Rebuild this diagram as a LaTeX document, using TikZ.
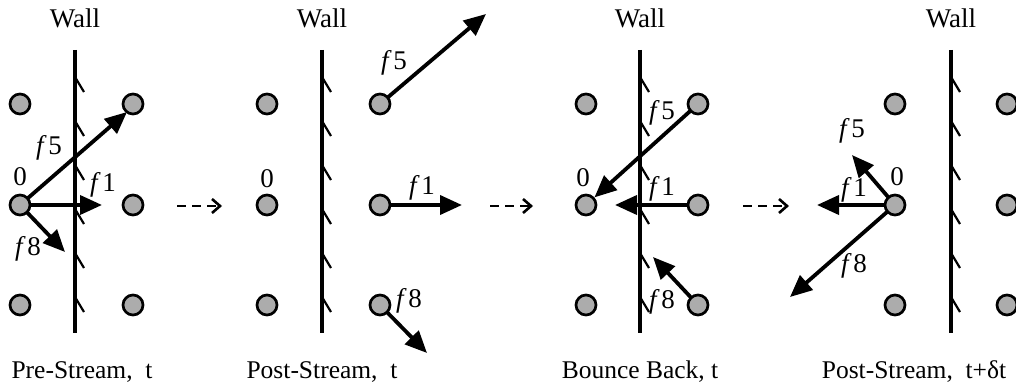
\documentclass[tikz,border=0pt]{standalone}
\usepackage{fontspec}
\setmainfont{Liberation Serif}
\usetikzlibrary{arrows.meta}
\tikzset{
  dot/.style={circle, draw=black, line width=2.7pt, fill=gray!65, minimum size=20pt, inner sep=0pt},
  vec/.style={line width=3.8pt, -{Triangle[length=22pt,width=19pt]}, shorten <=-1pt},
  wallline/.style={line width=3.2pt},
  hatch/.style={line width=2.2pt},
  flow/.style={line width=2.6pt, dash pattern=on 9pt off 6pt, -{Straight Barb[length=8pt,width=14pt,line width=2.6pt]}},
  lbl/.style={inner sep=0pt, font=\fontsize{27}{32}\selectfont},
  walltext/.style={inner sep=0pt, anchor=base, font=\fontsize{27}{32}\selectfont},
  captext/.style={inner sep=0pt, anchor=base, font=\fontsize{25.5}{30}\selectfont},
}
\newcommand{\fv}[1]{\textit{f}\kern1.5pt#1}
\newcommand{\wallat}[2]{%
  \node[walltext] (#2w) at (#1,28) {Wall};
  \draw[wallline] (#1,50) -- (#1,333);
  \foreach \yy in {77,121,165,209,253,297} {\draw[hatch] (#1,\yy) -- ({#1+9},{\yy+15});}
}
\begin{document}
\begin{tikzpicture}[x=1pt,y=-1pt]
\useasboundingbox (0,0) rectangle (1016,387);
% ---------- Panel 1 ----------
\wallat{75}{p1}
\node[dot] (a1) at (20,104) {};
\node[dot] (a2) at (20,205) {};
\node[dot] (a3) at (20,305) {};
\node[dot] (a4) at (133,104) {};
\node[dot] (a5) at (133,205) {};
\node[dot] (a6) at (133,305) {};
\coordinate (a5t) at (127,112);
\coordinate (a1t) at (102,205);
\coordinate (a8t) at (65,252);
\draw[vec] (a2) -- (a5t);
\draw[vec] (a2) -- (a1t);
\draw[vec] (a2) -- (a8t);
\node[lbl] (a0l) at (20,177) {0};
\node[lbl] (a5l) at (49,148) {\fv{5}};
\node[lbl] (a1l) at (103,185) {\fv{1}};
\node[lbl] (a8l) at (28,249) {\fv{8}};
\node[captext] (ac) at (82,378) {Pre-Stream,\ \ t};
% ---------- Panel 2 ----------
\wallat{322}{p2}
\node[dot] (b1) at (267,104) {};
\node[dot] (b2) at (267,205) {};
\node[dot] (b3) at (267,305) {};
\node[dot] (b4) at (380,104) {};
\node[dot] (b5) at (380,205) {};
\node[dot] (b6) at (380,305) {};
\coordinate (b5t) at (486,14);
\coordinate (b1t) at (462,205);
\coordinate (b8t) at (427,353);
\draw[vec] (b4) -- (b5t);
\draw[vec] (b5) -- (b1t);
\draw[vec] (b6) -- (b8t);
\node[lbl] (b0l) at (267,179) {0};
\node[lbl] (b5l) at (394,63) {\fv{5}};
\node[lbl] (b1l) at (422,188) {\fv{1}};
\node[lbl] (b8l) at (409,301) {\fv{8}};
\node[captext] (bc) at (322,378) {Post-Stream,\ \ t};
% ---------- Panel 3 ----------
\wallat{640}{p3}
\node[dot] (c1) at (586,104) {};
\node[dot] (c2) at (586,205) {};
\node[dot] (c3) at (586,305) {};
\node[dot] (c4) at (698,104) {};
\node[dot] (c5) at (698,205) {};
\node[dot] (c6) at (698,305) {};
\coordinate (c1t) at (615,205);
\coordinate (c8t) at (653,257);
\draw[vec] (c4) -- (c2);
\draw[vec] (c5) -- (c1t);
\draw[vec] (c6) -- (c8t);
\node[lbl] (c0l) at (583,178) {0};
\node[lbl] (c5l) at (662,113) {\fv{5}};
\node[lbl] (c1l) at (662,189) {\fv{1}};
\node[lbl] (c8l) at (662,302) {\fv{8}};
\node[captext] (cc) at (640,378) {Bounce Back, t};
% ---------- Panel 4 ----------
\wallat{951}{p4}
\node[dot] (d1) at (895,104) {};
\node[dot] (d2) at (895,205) {};
\node[dot] (d3) at (895,305) {};
\node[dot] (d4) at (1007,104) {};
\node[dot] (d5) at (1007,205) {};
\node[dot] (d6) at (1007,305) {};
\coordinate (d5t) at (852,155);
\coordinate (d1t) at (817,205);
\coordinate (d8t) at (790,297);
\draw[vec] (d2) -- (d5t);
\draw[vec] (d2) -- (d1t);
\draw[vec] (d2) -- (d8t);
\node[lbl] (d0l) at (897,177) {0};
\node[lbl] (d5l) at (852,131) {\fv{5}};
\node[lbl] (d1l) at (854,190) {\fv{1}};
\node[lbl] (d8l) at (854,266) {\fv{8}};
\node[captext] (dc) at (914,378) {Post-Stream,\ \ t+δt};
% ---------- flow arrows ----------
\coordinate (s1) at (177,206); \coordinate (e1) at (222,206);
\coordinate (s2) at (490,206); \coordinate (e2) at (533,206);
\coordinate (s3) at (743,206); \coordinate (e3) at (789,206);
\draw[flow] (s1) -- (e1);
\draw[flow] (s2) -- (e2);
\draw[flow] (s3) -- (e3);
\end{tikzpicture}
\end{document}
